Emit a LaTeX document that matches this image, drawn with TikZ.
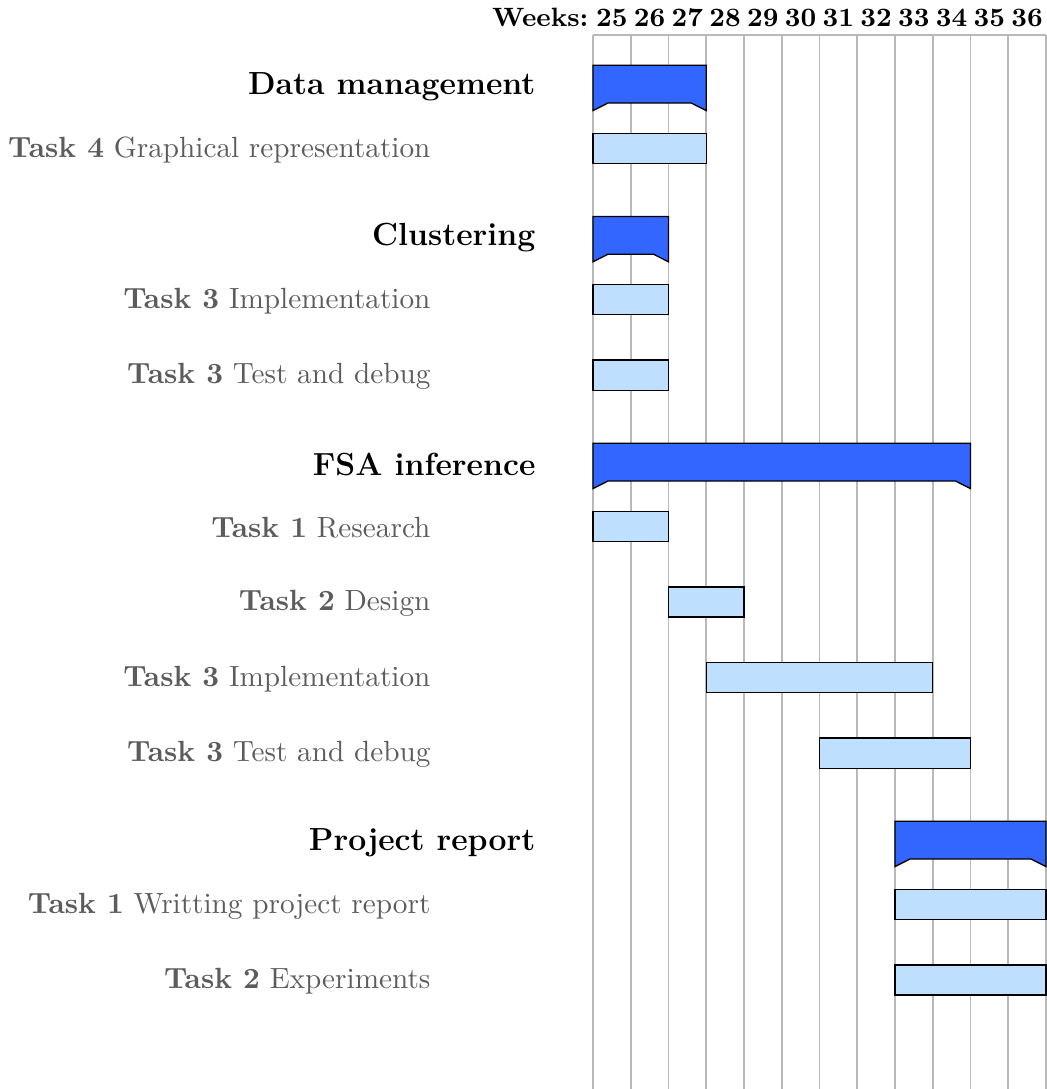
\documentclass[tikz,border=0pt]{standalone}
\definecolor{grpfill}{RGB}{51,102,255}
\definecolor{barfill}{RGB}{191,223,255}
\definecolor{gridc}{RGB}{185,185,185}
\definecolor{lblc}{RGB}{92,92,92}
\begin{document}
\begin{tikzpicture}[x=0.3472pt,y=-0.3472pt,
  gridline/.style={draw=gridc,line width=0.55pt},
  taskbar/.style={draw=black,fill=barfill,line width=0.45pt},
  groupbar/.style={draw=black,fill=grpfill,line width=0.45pt},
  tasklabel/.style={anchor=east,inner sep=0pt,text=lblc,font=\fontsize{10.15}{12}\selectfont},
  grouplabel/.style={anchor=east,inner sep=0pt,text=black,font=\bfseries\fontsize{11.1}{13}\selectfont},
  hdr/.style={anchor=base,inner sep=0pt,font=\bfseries\fontsize{9.2}{11}\selectfont}]
\useasboundingbox (0,0) rectangle (1047,1089);
% grid
\draw[gridline] (593,35) -- (1046,35);
\foreach \i in {0,...,12}{
  \draw[gridline] ({593+37.75*\i},35) -- ({593+37.75*\i},1089);
}
% header
\node[hdr,anchor=base east] (weeks) at (589,26) {Weeks:};
\foreach \w [count=\i from 0] in {25,...,36}{
  \node[hdr] (wk\w) at ({593+37.75*(\i+0.5)},26) {\w};
}
% groups
\foreach \r/\s/\e/\lbl [count=\i] in {0/0/3/{Data management},2/0/2/{Clustering},5/0/10/{FSA inference},10/8/12/{Project report}}{
  \pgfmathsetmacro\xa{593+37.75*\s}
  \pgfmathsetmacro\xb{593+37.75*\e}
  \pgfmathsetmacro\ya{35+75.6*\r+30.2}
  \pgfmathsetmacro\yb{\ya+37.8}
  \pgfmathsetmacro\yc{\ya+45.4}
  \draw[groupbar] (\xa,\ya) -- (\xb,\ya) -- (\xb,\yc) -- ({\xb-15},\yb) -- ({\xa+15},\yb) -- (\xa,\yc) -- cycle;
  \node[grouplabel] (group\i) at (536,{(\ya+\yb)/2+2.5}) {\lbl};
}
% tasks
\foreach \r/\s/\e/\lbl [count=\i] in {
  1/0/3/{\textbf{Task 4} Graphical representation},
  3/0/2/{\textbf{Task 3} Implementation},
  4/0/2/{\textbf{Task 3} Test and debug},
  6/0/2/{\textbf{Task 1} Research},
  7/2/4/{\textbf{Task 2} Design},
  8/3/9/{\textbf{Task 3} Implementation},
  9/6/10/{\textbf{Task 3} Test and debug},
  11/8/12/{\textbf{Task 1} Writting project report},
  12/8/12/{\textbf{Task 2} Experiments}}{
  \pgfmathsetmacro\xa{593+37.75*\s}
  \pgfmathsetmacro\xb{593+37.75*\e}
  \pgfmathsetmacro\ya{35+75.6*\r+22.7}
  \pgfmathsetmacro\yb{\ya+30.2}
  \draw[taskbar] (\xa,\ya) rectangle (\xb,\yb);
  \node[tasklabel] (task\i) at (431,{(\ya+\yb)/2+1.5}) {\lbl};
}
\end{tikzpicture}
\end{document}
